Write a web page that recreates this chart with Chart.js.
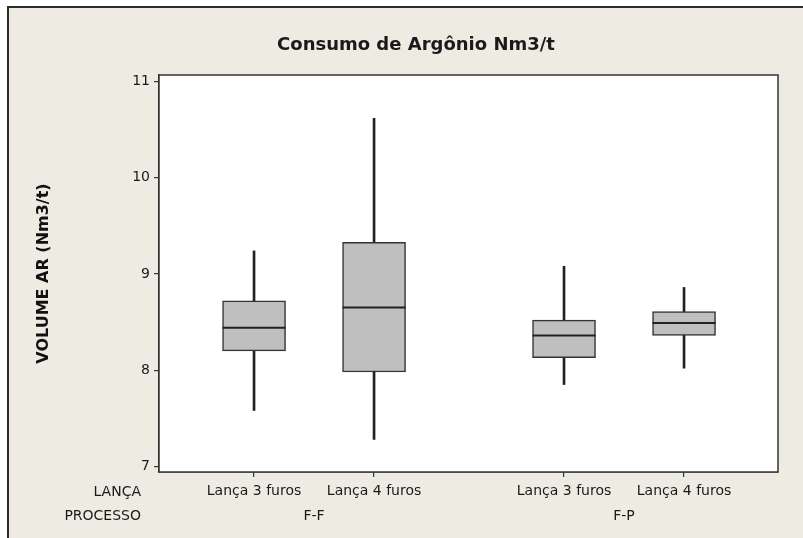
<!DOCTYPE html>
<html><head><meta charset="utf-8">
<script src="https://cdn.jsdelivr.net/npm/chart.js@4/dist/chart.umd.min.js"></script>
<style>
html,body{margin:0;padding:0;background:#fff;width:803px;height:538px;overflow:hidden}
#frame{position:absolute;left:7px;top:6px;right:0;bottom:0;background:#EEEBE2;border-left:2px solid #2b2b2b;border-top:2px solid #2b2b2b}
#c{position:absolute;left:0;top:0}
</style></head><body>
<div id="frame"></div>
<canvas id="c" width="803" height="538"></canvas>
<script>
// ---- data ----
const categories = ["Lança 3 furos", "Lança 4 furos", "Lança 3 furos", "Lança 4 furos"];
const processes  = ["F-F", "F-F", "F-P", "F-P"];
const whiskerLow  = [7.58, 7.28, 7.85, 8.02];
const q1          = [8.20, 7.98, 8.13, 8.36];
const median      = [8.44, 8.65, 8.36, 8.49];
const q3          = [8.72, 9.33, 8.52, 8.61];
const whiskerHigh = [9.24, 10.62, 9.08, 8.86];
const yTicks = [7, 8, 9, 10, 11];
const rowLabels = ["LANÇA", "PROCESSO"];
const chartTitle = "Consumo de Argônio Nm3/t";
const yTitle = "VOLUME AR (Nm3/t)";

// ---- layout helpers ----
const GROUP_GAP = 0.583;
const groups = [...new Set(processes)];
const positions = categories.map((c, i) => 1 + i + groups.indexOf(processes[i]) * GROUP_GAP);

const FONT = "'DejaVu Sans', sans-serif";
const TXT = '#1a1a1a';

const framePlugin = {
  id: 'plotFrame',
  beforeDatasetsDraw(chart) {
    const {ctx, chartArea: a} = chart;
    ctx.save();
    ctx.fillStyle = '#ffffff';
    ctx.fillRect(a.left, a.top, a.right - a.left, a.bottom - a.top);
    ctx.restore();
  },
  afterDraw(chart) {
    const {ctx, chartArea: a, scales} = chart;
    ctx.save();
    ctx.strokeStyle = '#333';
    ctx.lineWidth = 1.5;
    ctx.strokeRect(a.left, a.top, a.right - a.left, a.bottom - a.top);
    ctx.fillStyle = TXT;
    ctx.font = "14px " + FONT;
    ctx.textAlign = 'right';
    ctx.textBaseline = 'middle';
    ctx.fillText(rowLabels[0], 141, 492);
    ctx.fillText(rowLabels[1], 141, 516);
    ctx.textAlign = 'center';
    groups.forEach(g => {
      const xs = positions.filter((p, i) => processes[i] === g).map(p => scales.x.getPixelForValue(p));
      const cx = xs.reduce((s, v) => s + v, 0) / xs.length;
      ctx.fillText(g, cx, 516);
    });
    ctx.restore();
  }
};

new Chart(document.getElementById('c'), {
  type: 'bar',
  data: {
    datasets: [
      {
        label: 'whisker',
        data: positions.map((x, i) => ({x, y: [whiskerLow[i], whiskerHigh[i]]})),
        backgroundColor: '#222',
        borderWidth: 0,
        barThickness: 2,
        grouped: false,
        order: 3
      },
      {
        label: 'box',
        data: positions.map((x, i) => ({x, y: [q1[i], q3[i]]})),
        backgroundColor: '#BFBFBF',
        borderColor: '#333',
        borderWidth: 1.5,
        borderSkipped: false,
        barThickness: 63,
        grouped: false,
        order: 2
      },
      {
        type: 'scatter',
        label: 'median',
        data: positions.map((x, i) => ({x, y: median[i]})),
        pointStyle: 'line',
        pointRadius: 31.5,
        pointHoverRadius: 31.5,
        borderColor: '#222',
        pointBorderWidth: 2,
        borderWidth: 2,
        showLine: false,
        clip: false,
        order: 1
      }
    ]
  },
  options: {
    responsive: false,
    animation: false,
    devicePixelRatio: 1,
    layout: {autoPadding: false, padding: {left: 54, right: 25, top: 0, bottom: 0}},
    plugins: {
      legend: {display: false},
      tooltip: {enabled: false},
      title: {
        display: true,
        text: chartTitle,
        color: TXT,
        font: {family: FONT, size: 18, weight: 'bold'},
        padding: {top: 34.2, bottom: 19.2}
      }
    },
    scales: {
      x: {
        type: 'linear',
        offset: false,
        min: 0.208,
        max: 5.366,
        afterFit(s) { s.height = 66; s.paddingLeft = 0; s.paddingRight = 0; },
        afterBuildTicks(s) { s.ticks = positions.map(v => ({value: v})); },
        ticks: {
          autoSkip: false,
          maxRotation: 0,
          padding: 6,
          color: TXT,
          font: {family: FONT, size: 14},
          callback: (v, i) => categories[i]
        },
        grid: {offset: false, drawOnChartArea: false, drawTicks: true, tickLength: 5, color: '#333', lineWidth: 1.2},
        border: {display: true, color: '#333', width: 1.5}
      },
      y: {
        type: 'linear',
        min: 6.94,
        max: 11.07,
        afterFit(s) { s.width = 105; s.paddingTop = 0; s.paddingBottom = 0; },
        afterBuildTicks(s) { s.ticks = yTicks.map(v => ({value: v})); },
        ticks: {
          padding: 4,
          color: TXT,
          font: {family: FONT, size: 14}
        },
        grid: {drawOnChartArea: false, drawTicks: true, tickLength: 5, color: '#333', lineWidth: 1.2},
        border: {display: true, color: '#333', width: 1.5},
        title: {
          display: true,
          text: yTitle,
          color: '#111',
          font: {family: FONT, size: 16, weight: 'bold'},
          padding: {top: -19.6, bottom: 0}
        }
      }
    }
  },
  plugins: [framePlugin]
});
</script>
</body></html>
